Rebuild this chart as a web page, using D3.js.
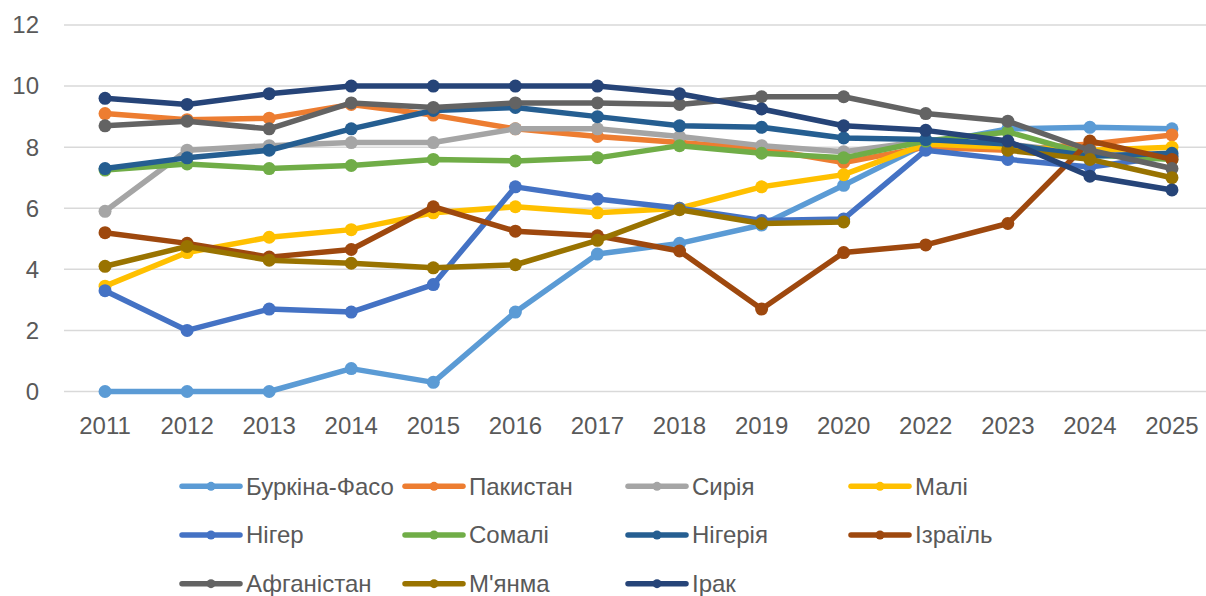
<!DOCTYPE html>
<html>
<head>
<meta charset="utf-8">
<script src="https://cdn.jsdelivr.net/npm/d3@7"></script>
<style>
    body { margin: 0; background: #fff; }
    svg { display: block; font-family: "Liberation Sans", Arial, sans-serif; }
    .grid line { stroke: #d9d9d9; stroke-width: 1.5; }
    .tick-label, .legend-label { fill: #595959; font-size: 24px; }
</style>
</head>
<body>
<svg id="chart" width="1206" height="596"></svg>
<script>
const years = ["2011", "2012", "2013", "2014", "2015", "2016", "2017", "2018", "2019", "2020", "2022", "2023", "2024", "2025"];
const yTicks = [0, 2, 4, 6, 8, 10, 12];

const countries = ["Буркіна-Фасо", "Пакистан", "Сирія", "Малі", "Нігер", "Сомалі", "Нігерія", "Ізраїль", "Афганістан", "М'янма", "Ірак"];
const colors = ["#5b9bd5", "#ed7d31", "#a5a5a5", "#ffc000", "#4472c4", "#70ad47", "#255e91", "#9e480e", "#636363", "#997300", "#264478"];

const burkinaFaso = [0, 0, 0, 0.75, 0.3, 2.6, 4.5, 4.85, 5.45, 6.75, 8.1, 8.6, 8.65, 8.6];
const pakistan = [9.1, 8.9, 8.95, 9.4, 9.05, 8.6, 8.35, 8.15, 7.95, 7.5, 8.0, 7.9, 8.1, 8.4];
const syria = [5.9, 7.9, 8.05, 8.15, 8.15, 8.6, 8.6, 8.35, 8.05, 7.85, 8.2, 8.1, 7.8, 7.7];
const mali = [3.45, 4.55, 5.05, 5.3, 5.85, 6.05, 5.85, 6.0, 6.7, 7.1, 8.1, 8.0, 7.9, 8.0];
const niger = [3.3, 2.0, 2.7, 2.6, 3.5, 6.7, 6.3, 6.0, 5.6, 5.65, 7.9, 7.6, 7.35, 7.7];
const somalia = [7.25, 7.45, 7.3, 7.4, 7.6, 7.55, 7.65, 8.05, 7.8, 7.65, 8.2, 8.5, 7.75, 7.6];
const nigeria = [7.3, 7.65, 7.9, 8.6, 9.2, 9.3, 9.0, 8.7, 8.65, 8.3, 8.25, 8.1, 7.7, 7.8];
const israel = [5.2, 4.85, 4.4, 4.65, 6.05, 5.25, 5.1, 4.6, 2.7, 4.55, 4.8, 5.5, 8.2, 7.6];
const afghanistan = [8.7, 8.85, 8.6, 9.45, 9.3, 9.45, 9.45, 9.4, 9.65, 9.65, 9.1, 8.85, 7.9, 7.3];
const myanmar = [4.1, 4.75, 4.3, 4.2, 4.05, 4.15, 4.95, 5.95, 5.5, 5.55, null, 7.9, 7.6, 7.0]; //no 2022 point
const iraq = [9.6, 9.4, 9.75, 10.0, 10.0, 10.0, 10.0, 9.75, 9.25, 8.7, 8.55, 8.2, 7.05, 6.6];

const seriesValues = [burkinaFaso, pakistan, syria, mali, niger, somalia, nigeria, israel, afghanistan, myanmar, iraq];

const series = countries.map((name, i) => ({
    name: name,
    color: colors[i],
    points: years.map((year, j) => ({ year: year, value: seriesValues[i][j] }))
}));

const svg = d3.select("#chart");

const x = d3.scaleBand()
    .domain(years)
    .range([64, 1213]);

const y = d3.scaleLinear()
    .domain([0, 12])
    .range([391.5, 25]);

const cx = d => x(d.year) + x.bandwidth() / 2;

//gridlines
svg.append("g")
    .classed("grid", true)
    .selectAll("line")
    .data(yTicks)
    .join("line")
        .attr("x1", x.range()[0])
        .attr("x2", x.range()[1])
        .attr("y1", d => y(d))
        .attr("y2", d => y(d));

//y labels
svg.append("g")
    .selectAll("text")
    .data(yTicks)
    .join("text")
        .classed("tick-label", true)
        .attr("x", 39)
        .attr("y", d => y(d))
        .attr("dy", "0.35em")
        .attr("text-anchor", "end")
        .text(d => d);

//x labels
svg.append("g")
    .selectAll("text")
    .data(years)
    .join("text")
        .classed("tick-label", true)
        .attr("x", d => x(d) + x.bandwidth() / 2)
        .attr("y", 434)
        .attr("text-anchor", "middle")
        .text(d => d);

const line = d3.line()
    .defined(d => d.value !== null)
    .x(cx)
    .y(d => y(d.value));

//series, later ones drawn on top
const seriesGroup = svg.append("g")
    .selectAll("g")
    .data(series)
    .join("g");

seriesGroup.append("path")
    .attr("fill", "none")
    .attr("stroke", d => d.color)
    .attr("stroke-width", 5.5)
    .attr("stroke-linejoin", "round")
    .attr("stroke-linecap", "round")
    .attr("d", d => line(d.points));

seriesGroup.selectAll("circle")
    .data(d => d.points.filter(p => p.value !== null).map(p => ({ ...p, color: d.color })))
    .join("circle")
        .attr("cx", cx)
        .attr("cy", d => y(d.value))
        .attr("r", 6.5)
        .attr("fill", d => d.color);

//legend, 4 columns
const legendCols = d3.scaleBand().domain(d3.range(4)).range([180, 1072]);
const legendRows = d3.scaleBand().domain(d3.range(3)).range([462, 608]);

const legendItem = svg.append("g")
    .selectAll("g")
    .data(series)
    .join("g")
        .attr("transform", (d, i) => `translate(${legendCols(i % 4)},${legendRows(Math.floor(i / 4)) + legendRows.bandwidth() / 2})`);

legendItem.append("line")
    .attr("x1", 2)
    .attr("x2", 60)
    .attr("stroke", d => d.color)
    .attr("stroke-width", 5.5)
    .attr("stroke-linecap", "round");

legendItem.append("circle")
    .attr("cx", 31)
    .attr("r", 4.5)
    .attr("fill", d => d.color);

legendItem.append("text")
    .classed("legend-label", true)
    .attr("x", 66)
    .attr("dy", "0.35em")
    .text(d => d.name);
</script>
</body>
</html>
